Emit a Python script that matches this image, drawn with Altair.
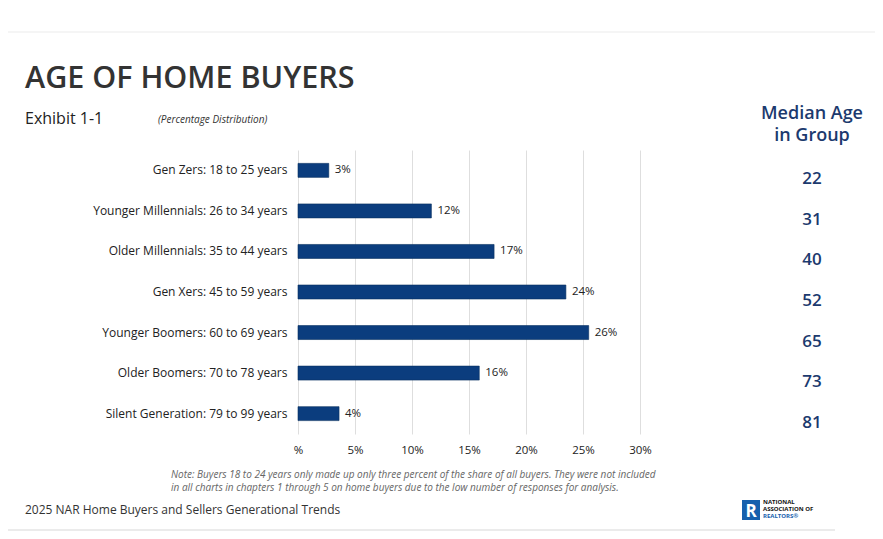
import altair as alt
import pandas as pd

groups = [
    "Gen Zers: 18 to 25 years",
    "Younger Millennials: 26 to 34 years",
    "Older Millennials: 35 to 44 years",
    "Gen Xers: 45 to 59 years",
    "Younger Boomers: 60 to 69 years",
    "Older Boomers: 70 to 78 years",
    "Silent Generation: 79 to 99 years",
]
shares = [2.7, 11.7, 17.2, 23.5, 25.5, 15.9, 3.6]
share_labels = ["3%", "12%", "17%", "24%", "26%", "16%", "4%"]
median_ages = ["22", "31", "40", "52", "65", "73", "81"]
x_ticks = [0, 5, 10, 15, 20, 25, 30]

df = pd.DataFrame({"group": groups, "share": shares, "label": share_labels, "median": median_ages})

FONT = "Open Sans"
NAVY = "#0b3d7e"
TEXTNAVY = "#1c3a6e"

W, H = 342, 284

y_enc = alt.Y("group:N", sort=groups, title=None,
              scale=alt.Scale(paddingInner=0.655, paddingOuter=0.33),
              axis=alt.Axis(ticks=False, domain=False, labelFontSize=12, labelColor="#222",
                            labelFont=FONT, labelPadding=11, labelLimit=300))

bars = alt.Chart(df).mark_bar(color=NAVY, stroke="#08305f", strokeWidth=0.6).encode(
    x=alt.X("share:Q", title=None, scale=alt.Scale(domain=[0, 30], nice=False),
            axis=alt.Axis(values=x_ticks, labelExpr="datum.value == 0 ? '%' : datum.value + '%'",
                          ticks=False, domain=False, grid=True, gridColor="#dedede",
                          labelFlush=False, labelFontSize=11.5, labelColor="#222",
                          labelFont=FONT, labelPadding=10)),
    y=y_enc,
)

labels = alt.Chart(df).mark_text(align="left", baseline="middle", dx=6, fontSize=11.5,
                                  font=FONT, color="#222").encode(
    x="share:Q", y=alt.Y("group:N", sort=groups), text="label:N")

medians = alt.Chart(df).mark_text(align="center", baseline="middle", dy=9, fontSize=17,
                                   fontWeight=600, font=FONT, color=TEXTNAVY).encode(
    x=alt.value(514), y=alt.Y("group:N", sort=groups), text="median:N")

def txt(text, x, y, size, color="#222", weight="normal", style="normal", align="left"):
    return alt.Chart(pd.DataFrame({"t": [text]})).mark_text(
        align=align, baseline="alphabetic", fontSize=size, fontWeight=weight, fontStyle=style,
        font=FONT, color=color).encode(x=alt.value(x), y=alt.value(y), text="t:N")

title = txt("AGE OF HOME BUYERS", -273, -62, 30.5, color="#333", weight=600)
exhibit = txt("Exhibit 1-1", -273, -26, 16, color="#222")
pct = txt("(Percentage Distribution)", -140, -27, 10, color="#333", style="italic")
med1 = txt("Median Age", 514, -31, 18, color=TEXTNAVY, weight=600, align="center")
med2 = txt("in Group", 514, -9, 18, color=TEXTNAVY, weight=600, align="center")
note1 = txt("Note: Buyers 18 to 24 years only made up only three percent of the share of all buyers. They were not included",
            -127, 328, 10, color="#666", style="italic")
note2 = txt("in all charts in chapters 1 through 5 on home buyers due to the low number of responses for analysis.",
            -127, 341, 10, color="#666", style="italic")
footer = txt("2025 NAR Home Buyers and Sellers Generational Trends", -273, 364, 12, color="#333")

logo_box = alt.Chart(pd.DataFrame({"a": [1]})).mark_rect(color="#1560ad").encode(
    x=alt.value(444), x2=alt.value(462), y=alt.value(350), y2=alt.value(370))
logo_r = txt("R", 453, 367, 17, color="white", weight="bold", align="center")
logo1 = txt("NATIONAL", 465, 354, 6, color="#111", weight="bold")
logo2 = txt("ASSOCIATION OF", 465, 361, 6, color="#111", weight="bold")
logo3 = txt("REALTORS®", 465, 368, 6, color="#1560ad", weight="bold")

top_line = alt.Chart(pd.DataFrame({"a": [1]})).mark_rule(color="#f2f2f2", strokeWidth=1.5).encode(
    x=alt.value(-298), x2=alt.value(585), y=alt.value(-118))
bottom_line = alt.Chart(pd.DataFrame({"a": [1]})).mark_rule(color="#e4e4e4", strokeWidth=1.5).encode(
    x=alt.value(-298), x2=alt.value(537), y=alt.value(380))

chart = alt.layer(
    bars, labels, medians, title, exhibit, pct, med1, med2, note1, note2, footer,
    logo_box, logo_r, logo1, logo2, logo3, top_line, bottom_line
).properties(
    width=W, height=H,
    autosize=alt.AutoSizeParams(type="none"),
    padding={"left": 290, "top": 142, "right": 235, "bottom": 97},
    background="white",
).configure_view(stroke=None)

chart.save("out.html", embed_options={"renderer": "svg", "actions": False})
